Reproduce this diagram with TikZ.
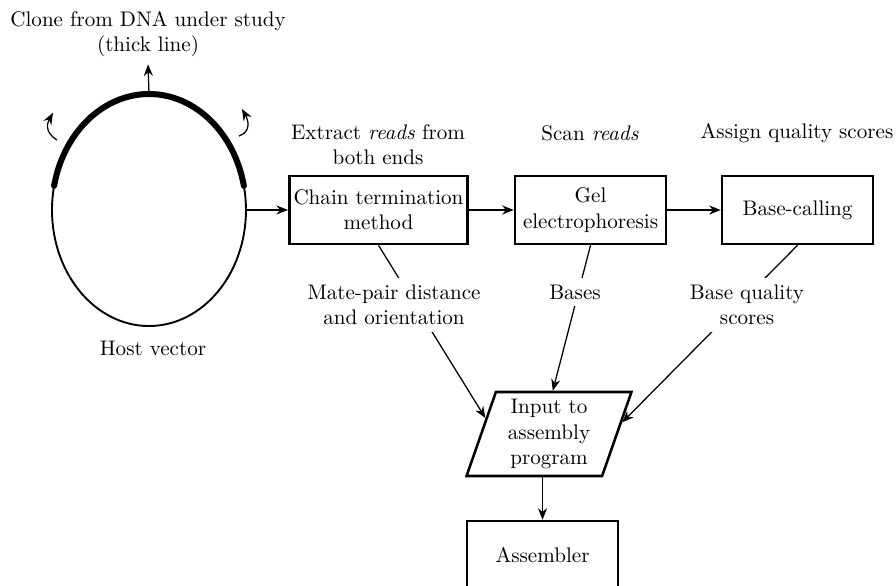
\documentclass[tikz,border=0pt]{standalone}
\usetikzlibrary{shapes.geometric,arrows.meta}

\tikzset{
  stepbox/.style={draw, very thick, inner sep=2pt, minimum width=2.517cm, minimum height=1.133cm, align=center},
  datalabel/.style={fill=white, align=center},
  flow/.style={semithick, -{Stealth[length=5.5pt,width=4.3pt]}},
}

\begin{document}
\begin{tikzpicture}
        \useasboundingbox (0,0) rectangle (14.933,9.75);

        % Host vector with the cloned piece
        \node[ellipse, draw, line width=0.9pt, inner sep=0pt, minimum width=3.233cm, minimum height=3.867cm] (vec) at (2.483,6.25) {};
        \draw[line width=2.85pt, line cap=round] (vec.center) ++(12:1.617cm and 1.933cm)
            arc[start angle=12, end angle=168, x radius=1.617cm, y radius=1.933cm]; % thick line
        \node[align=center] (clone) at (2.467,9.183) {Clone from DNA under study\\(thick line)};
        \node (host) at (2.55,3.95) {Host vector};
        \draw[flow] (vec.north) -- (clone.south);
        \draw[flow] (0.95,7.417) .. controls (0.72,7.56) and (0.8,7.72) .. (0.883,7.87);
        \draw[flow] (3.983,7.483) .. controls (4.2,7.56) and (4.13,7.76) .. (4.033,7.935);

        % Processing steps
        \node[stepbox] (chain) at (6.308,6.25) {Chain termination\\method};
        \node[stepbox] (gel) at (9.842,6.25) {Gel\\electrophoresis};
        \node[stepbox] (base) at (13.292,6.25) {Base-calling};
        \node[align=center] (extract) at (6.3,7.333) {Extract \emph{reads} from\\both ends};
        \node (scan) at (9.833,7.533) {Scan \emph{reads}};
        \node (assign) at (13.283,7.533) {Assign quality scores};

        \node[trapezium, draw, very thick, trapezium left angle=72, trapezium right angle=108,
              trapezium stretches=true, minimum width=2.75cm, minimum height=1.4cm, inner sep=1pt,
              align=center] (input) at (9.15,2.517) {Input to\\assembly\\program};
        \node[stepbox] (asm) at (9.042,0.5) {Assembler};

        \draw[flow] (vec.east) -- (chain.west);
        \draw[flow] (chain) -- (gel);
        \draw[flow] (gel) -- (base);

        % Data going to the assembler
        \draw[flow] (chain.south) -- (input.166);
        \draw[flow] (gel.south) -- (input.85);
        \draw[flow] (base.south) -- (input.9);
        \draw[flow] (input.south -| asm.north) -- (asm.north);

        \node[datalabel] (mate) at (6.567,4.667) {Mate-pair distance\\and orientation};
        \node[datalabel] (bases) at (9.583,4.883) {Bases};
        \node[datalabel] (quality) at (12.45,4.667) {Base quality\\scores};
    \end{tikzpicture}
\end{document}
